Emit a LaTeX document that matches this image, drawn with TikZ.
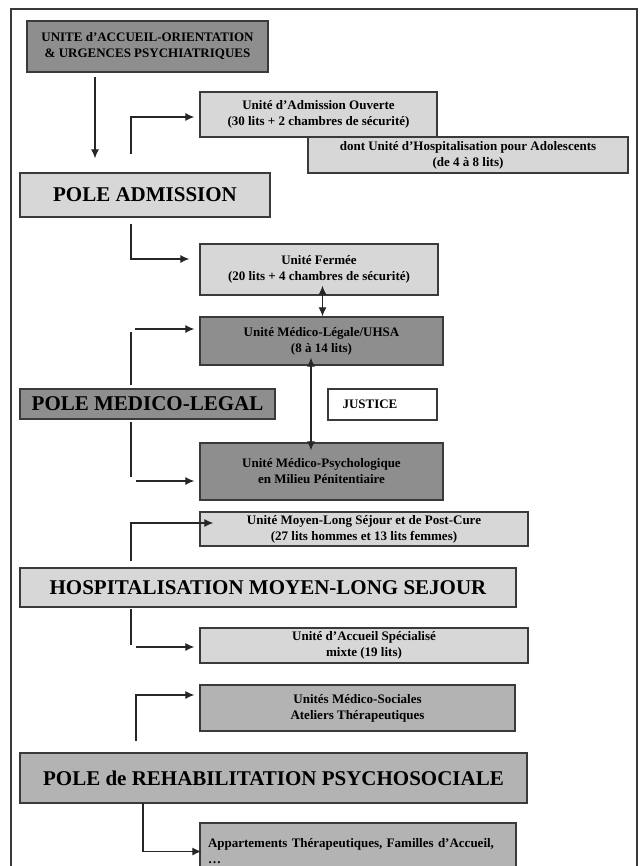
\documentclass[tikz,border=0pt]{standalone}
\usepackage{fontspec}
\setmainfont{Liberation Serif}
\usetikzlibrary{arrows.meta,calc}
\definecolor{lightg}{HTML}{D7D7D7}
\definecolor{darkg}{HTML}{8E8E8E}
\definecolor{midg}{HTML}{B3B3B3}
\definecolor{edgec}{HTML}{3A3A3A}
\newcommand{\smallf}{\fontsize{13}{16}\selectfont\bfseries}
\newcommand{\bigf}{\fontsize{21}{24}\selectfont\bfseries}
\newcommand{\mybox}[7]{\node[boxbase,#6,minimum width=\the\dimexpr#4pt-#2pt\relax,minimum height=\the\dimexpr#5pt-#3pt\relax] (#1) at ({(#2+#4)/2},{(#3+#5)/2}) {#7};}
\tikzset{
  boxbase/.style={draw=edgec, line width=1.3pt, inner sep=0pt, align=center, font=\smallf, text=black},
  lightbox/.style={fill=lightg},
  darkbox/.style={fill=darkg},
  midbox/.style={fill=midg},
  bigtext/.style={font=\bigf},
  ln/.style={line width=1.2pt, draw=black!85},
  arr/.style={ln, -{Latex[length=9pt,width=8pt]}},
  darr/.style={ln, {Latex[length=9pt,width=8pt]}-{Latex[length=9pt,width=8pt]}},
}
\begin{document}
\begin{tikzpicture}[x=1pt,y=-1pt]
\useasboundingbox (0,0) rectangle (641,866);
\fill[white] (0,0) rectangle (641,866);
\draw[edgec, line width=1.3pt] (11,9) rectangle (637,895);

\mybox{acc}{27}{21}{268}{72}{darkbox}{UNITE d’ACCUEIL-ORIENTATION\\\& URGENCES PSYCHIATRIQUES}
\mybox{ouv}{200}{92}{437}{137}{lightbox}{Unité d’Admission Ouverte\\(30 lits + 2 chambres de sécurité)}
\mybox{ado}{308}{137}{628}{173}{lightbox}{dont Unité d’Hospitalisation pour Adolescents\\(de 4 à 8 lits)}
\mybox{padm}{20}{173}{270}{217}{lightbox,bigtext}{POLE ADMISSION}
\mybox{ferm}{200}{244}{438}{295}{lightbox}{Unité Fermée\\(20 lits + 4 chambres de sécurité)}
\mybox{uhsa}{200}{317}{443}{365}{darkbox}{Unité Médico-Légale/UHSA\\(8 à 14 lits)}
\mybox{pml}{20}{389}{275}{419}{darkbox,bigtext}{POLE MEDICO-LEGAL}
\mybox{just}{328}{389}{437}{420}{fill=white,text width=80pt,align=left}{JUSTICE}
\mybox{psy}{200}{443}{443}{500}{darkbox}{Unité Médico-Psychologique\\en Milieu Pénitentiaire}
\mybox{mls}{200}{512}{528}{546}{lightbox}{Unité Moyen-Long Séjour et de Post-Cure\\(27 lits hommes et 13 lits femmes)}
\mybox{hosp}{20}{568}{516}{607}{lightbox,bigtext}{HOSPITALISATION MOYEN-LONG SEJOUR}
\mybox{aspe}{200}{628}{528}{663}{lightbox}{Unité d’Accueil Spécialisé\\mixte (19 lits)}
\mybox{msoc}{200}{685}{515}{731}{midbox}{Unités Médico-Sociales\\Ateliers Thérapeutiques}
\mybox{reh}{20}{753}{527}{803}{midbox,bigtext}{POLE de REHABILITATION PSYCHOSOCIALE}
\mybox{app}{200}{823}{516}{880}{midbox,text width=300pt,align=left}{Appartements Thérapeutiques, Familles d’Accueil,\\\dots}

% connectors
\coordinate (d1) at (95,77);
\draw[arr, shorten >=14pt] (d1) -- (d1 |- padm.north);
\coordinate (e1) at (131,154);
\draw[arr] (e1) |- ([xshift=-5pt,yshift=-2.5pt]ouv.west);
\coordinate (e2) at (131,224);
\draw[arr] (e2) |- ([xshift=-10pt,yshift=10.5pt]ferm.west);
\draw[darr] ([xshift=3.5pt,yshift=10pt]ferm.south) -- ([xshift=3.5pt]ferm.south |- uhsa.north);

\coordinate (v1a) at (131,332); \coordinate (v1b) at (131,385);
\draw[ln] (v1a) -- (v1b);
\coordinate (h1) at (135,329);
\draw[arr, shorten >=5pt] (h1) -- (h1 -| uhsa.west);
\draw[darr] ([xshift=-10.5pt,yshift=8pt]uhsa.south) -- ([xshift=-10.5pt,yshift=-8pt]uhsa.south |- psy.north);
\coordinate (v2a) at (131,422); \coordinate (v2b) at (131,477);
\draw[ln] (v2a) -- (v2b);
\coordinate (h2) at (136,481);
\draw[arr, shorten >=5pt] (h2) -- (h2 -| psy.west);

\coordinate (e3) at (131,561);
\draw[arr] (e3) |- ([xshift=14pt,yshift=6pt]mls.west);
\coordinate (v3a) at (131,609); \coordinate (v3b) at (131,645);
\draw[ln] (v3a) -- (v3b);
\coordinate (h3) at (136,647);
\draw[arr, shorten >=5pt] (h3) -- (h3 -| aspe.west);

\coordinate (e4) at (136,741);
\draw[arr] (e4) |- ([xshift=-5pt,yshift=13pt]msoc.west);
\coordinate (e5) at (143,803);
\draw[arr] (e5) |- ([xshift=2pt]app.west);
\end{tikzpicture}
\end{document}
